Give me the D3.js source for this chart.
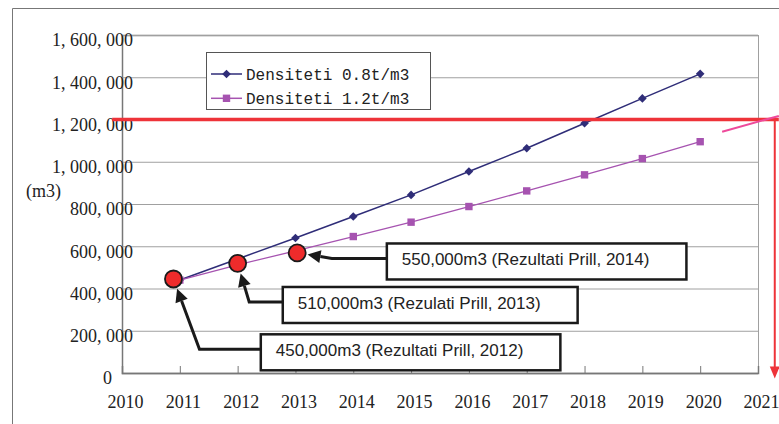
<!DOCTYPE html>
<html>
<head>
<meta charset="utf-8">
<script src="https://cdn.jsdelivr.net/npm/d3@7"></script>
<style>
  body { margin: 0; background: #fff; }
  svg { display: block; }
</style>
</head>
<body>
<svg id="chart"></svg>
<script>
// Chart data
var years = [2011, 2012, 2013, 2014, 2015, 2016, 2017, 2018, 2019, 2020];
var dens08 = [440000, 540000, 639000, 741000, 843000, 954000, 1064000, 1182000, 1300000, 1416000];
var dens12 = [440000, 512000, 578000, 646000, 714000, 788000, 862000, 938000, 1015000, 1095000];
var seriesNames = ["Densiteti 0.8t/m3", "Densiteti 1.2t/m3"];
var xTicks = d3.range(2010, 2022);
var yTicks = d3.range(0, 1600001, 200000);

// Prill survey results (circle year/value, label anchor, arrow elbow)
var prillLabels = ["450,000m3 (Rezultati Prill, 2012)", "510,000m3 (Rezulati Prill, 2013)", "550,000m3 (Rezultati Prill, 2014)"];
var prillYear = [2010.89, 2012.0, 2013.03];
var prillValue = [445000, 519000, 569000];
var labelYear = [2012.66, 2013.04, 2014.84];
var labelValue = [79000, 303000, 509000];
var elbowYear = [2011.34, 2012.2, 2013.63];

// 1.2 Mm3 capacity limit and extrapolation
var limitValue = 1200000;
var limitYears = [2009.83, 2021.36];
var dropYear = 2021.29;
var dropEnd = -26000;
var trendYears = [2020.38, 2021.36];
var trendValues = [1142000, 1217000];

var W = 779, H = 424;
var margin = {top: 35, right: 21, bottom: 51, left: 122};
var width = W - margin.left - margin.right;
var height = H - margin.top - margin.bottom;

var x = d3.scaleLinear().domain([2010, 2021]).range([0, width]);
var y = d3.scaleLinear().domain([0, 1600000]).range([height, 0]);

var svg = d3.select("#chart").attr("width", W).attr("height", H);

// outer chart frame
svg.append("path")
  .attr("d", "M12.5," + H + "V8.5H" + W)
  .attr("fill", "none")
  .attr("stroke", "#777");

var g = svg.append("g").attr("transform", "translate(" + margin.left + "," + margin.top + ")");

// y axis + gridlines
var yAxis = g.append("g")
  .call(d3.axisLeft(y).tickValues(yTicks).tickSize(-width).tickPadding(-11)
    .tickFormat(function(d) { return d3.format(",")(d).replace(/,/g, ", "); }));
yAxis.select(".domain").attr("stroke", "#777").attr("stroke-width", 1.5);
yAxis.selectAll(".tick line").attr("stroke", "#a0a0a0");
yAxis.selectAll(".tick text")
  .attr("font-family", "Liberation Serif, serif")
  .attr("font-size", 18)
  .attr("fill", "#222")
  .attr("y", 5)
  .attr("dx", function(d) { return d === 0 ? -21 : 0; });

// right plot border
g.append("line")
  .attr("x1", width + 0.5).attr("x2", width + 0.5)
  .attr("y1", 0).attr("y2", height)
  .attr("stroke", "#a0a0a0");

// x axis
var xAxis = g.append("g")
  .attr("transform", "translate(0," + height + ")")
  .call(d3.axisBottom(x).tickValues(xTicks).tickSize(-7).tickFormat(d3.format("d")));
xAxis.select(".domain").attr("stroke", "#777").attr("stroke-width", 1.5);
xAxis.selectAll(".tick line").attr("stroke", "#777");
xAxis.selectAll(".tick text")
  .attr("font-family", "Liberation Serif, serif")
  .attr("font-size", 18)
  .attr("fill", "#222")
  .attr("y", 35).attr("dy", 0).attr("dx", 3);

// y axis title
svg.append("text")
  .attr("x", 26).attr("y", 197)
  .attr("font-family", "Liberation Serif, serif")
  .attr("font-size", 18)
  .attr("fill", "#222")
  .text("(m3)");

// series
var colors = ["#2f2d78", "#a653b0"];
var line = d3.line().x(function(d) { return x(d[0]); }).y(function(d) { return y(d[1]); });
var series = [d3.zip(years, dens08), d3.zip(years, dens12)];

function diamond(s) { return "M0," + (-s) + "L" + s + ",0L0," + s + "L" + (-s) + ",0Z"; }
function square(s) { return "M" + (-s) + "," + (-s) + "h" + (2 * s) + "v" + (2 * s) + "h" + (-2 * s) + "Z"; }
var markers = [diamond(4.3), square(3.7)];

series.forEach(function(data, i) {
  g.append("path")
    .datum(data)
    .attr("d", line)
    .attr("fill", "none")
    .attr("stroke", colors[i])
    .attr("stroke-width", i === 0 ? 1.5 : 1.3);
  g.selectAll(".m" + i)
    .data(data)
    .enter().append("path")
    .attr("class", "m" + i)
    .attr("transform", function(d) { return "translate(" + x(d[0]) + "," + y(d[1]) + ")"; })
    .attr("d", markers[i])
    .attr("fill", colors[i]);
});

// legend
var legend = svg.append("g");
legend.append("rect")
  .attr("x", 206.5).attr("y", 52.5).attr("width", 224).attr("height", 57)
  .attr("fill", "#fff").attr("stroke", "#555");
seriesNames.forEach(function(name, i) {
  var ly = 74 + i * 24.3;
  legend.append("line")
    .attr("x1", 211).attr("x2", 242).attr("y1", ly).attr("y2", ly)
    .attr("stroke", colors[i]).attr("stroke-width", 1.5);
  legend.append("path")
    .attr("transform", "translate(226.5," + ly + ")")
    .attr("d", markers[i])
    .attr("fill", colors[i]);
  legend.append("text")
    .attr("x", 246).attr("y", ly + 6)
    .attr("font-family", "Liberation Mono, monospace")
    .attr("font-size", 16)
    .attr("fill", "#222")
    .text(name);
});

// capacity limit lines
var red = "#ee3339";
g.append("line")
  .attr("x1", x(limitYears[0])).attr("x2", x(limitYears[1]))
  .attr("y1", y(limitValue)).attr("y2", y(limitValue))
  .attr("stroke", red).attr("stroke-width", 3.5);
g.append("line")
  .attr("x1", x(dropYear)).attr("x2", x(dropYear))
  .attr("y1", y(limitValue)).attr("y2", y(dropEnd) - 10)
  .attr("stroke", red).attr("stroke-width", 2);
g.append("path")
  .attr("d", "M" + (x(dropYear) - 5) + "," + (y(dropEnd) - 12) + "L" + (x(dropYear) + 5) + "," + (y(dropEnd) - 12) + "L" + x(dropYear) + "," + y(dropEnd) + "Z")
  .attr("fill", red);
g.append("line")
  .attr("x1", x(trendYears[0])).attr("x2", x(trendYears[1]))
  .attr("y1", y(trendValues[0])).attr("y2", y(trendValues[1]))
  .attr("stroke", "#ee4a9b").attr("stroke-width", 2);

// Prill annotations
var ann = g.append("g");
prillLabels.forEach(function(label, i) {
  var tx = x(labelYear[i]), ty = y(labelValue[i]);
  var t = ann.append("text")
    .attr("x", tx).attr("y", ty)
    .attr("font-family", "Liberation Sans, Arial, sans-serif")
    .attr("font-size", 17)
    .attr("fill", "#222")
    .text(label);
  var bb = t.node().getBBox();
  var bx = tx - 15;
  ann.insert("rect", "text")
    .attr("x", bx).attr("y", ty - 22)
    .attr("width", bb.width + 52).attr("height", 36)
    .attr("fill", "#fff").attr("stroke", "#1a1a1a").attr("stroke-width", 2.5);

  // arrow from box to circle
  var cx = x(prillYear[i]), cy = y(prillValue[i]);
  var ex = x(elbowYear[i]), ey = ty - 7;
  var dx = ex - cx, dy = ey - cy, len = Math.sqrt(dx * dx + dy * dy);
  var ux = dx / len, uy = dy / len;
  var tipX = cx + ux * 10.5, tipY = cy + uy * 10.5;
  var baseX = tipX + ux * 13, baseY = tipY + uy * 13;
  ann.append("path")
    .attr("d", "M" + bx + "," + ey + "H" + ex + "L" + baseX + "," + baseY)
    .attr("fill", "none").attr("stroke", "#1a1a1a").attr("stroke-width", 3);
  ann.append("path")
    .attr("d", "M" + tipX + "," + tipY +
      "L" + (baseX - uy * 6.5) + "," + (baseY + ux * 6.5) +
      "L" + (baseX + uy * 6.5) + "," + (baseY - ux * 6.5) + "Z")
    .attr("fill", "#1a1a1a");

  ann.append("circle")
    .attr("cx", cx).attr("cy", cy).attr("r", 8.5)
    .attr("fill", "#ee2b2b").attr("stroke", "#1a1a1a").attr("stroke-width", 1.8);
});
</script>
</body>
</html>
